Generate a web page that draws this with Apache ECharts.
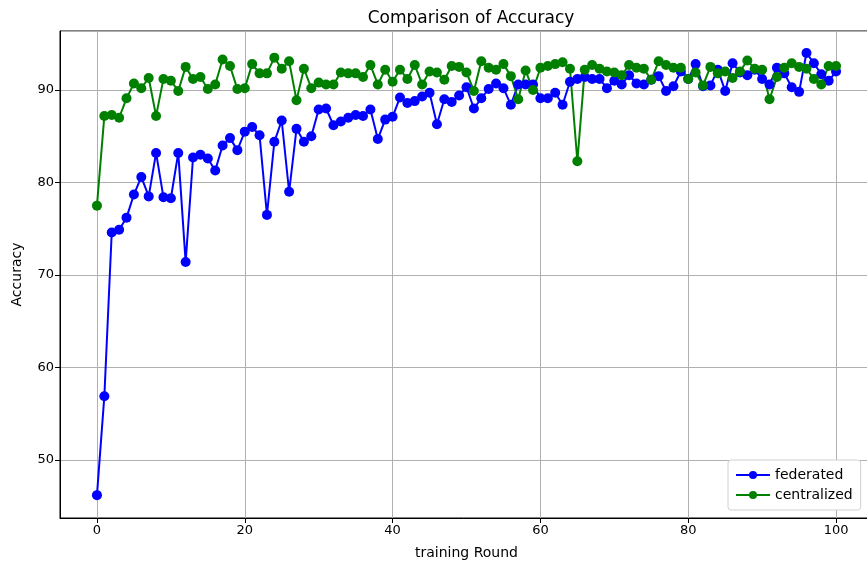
<!DOCTYPE html>
<html>
<head>
<meta charset="utf-8">
<script src="https://cdn.jsdelivr.net/npm/echarts@6/dist/echarts.min.js"></script>
<style>html,body{margin:0;padding:0;background:#fff}#c{width:867px;height:569px}</style>
</head>
<body>
<div id="c"></div>
<script>
var rounds = [];
for (var r = 0; r <= 100; r++) rounds.push(r);

var federated = [46.2,56.9,74.6,74.9,76.2,78.7,80.6,78.5,83.2,78.4,
78.3,83.2,71.4,82.7,83.0,82.6,81.3,84.0,84.8,83.5,
85.5,86.0,85.1,76.5,84.4,86.7,79.0,85.8,84.4,85.0,
87.9,88.0,86.2,86.6,87.0,87.3,87.2,87.9,84.7,86.8,
87.1,89.2,88.6,88.8,89.3,89.7,86.3,89.0,88.7,89.4,
90.3,88.0,89.1,90.1,90.7,90.2,88.4,90.6,90.6,90.6,
89.1,89.1,89.7,88.4,90.9,91.2,91.4,91.2,91.2,90.2,
91.0,90.6,91.6,90.7,90.6,91.1,91.5,89.9,90.4,92.0,
91.2,92.8,90.4,90.5,92.2,89.9,92.9,91.9,91.6,92.2,
91.2,90.6,92.4,91.8,90.3,89.8,94.0,92.9,91.7,91.0,
92.0];

var centralized = [77.5,87.2,87.3,87.0,89.1,90.7,90.2,91.3,87.2,91.2,
91.0,89.9,92.5,91.2,91.4,90.1,90.6,93.3,92.6,90.1,
90.2,92.8,91.8,91.8,93.5,92.3,93.1,88.9,92.3,90.2,
90.8,90.6,90.6,91.9,91.8,91.8,91.4,92.7,90.6,92.2,
90.9,92.2,91.2,92.7,90.6,92.0,91.9,91.1,92.6,92.5,
91.9,89.9,93.1,92.4,92.2,92.8,91.5,89.0,92.1,90.0,
92.4,92.6,92.8,93.0,92.3,82.3,92.2,92.7,92.3,92.0,
91.9,91.6,92.7,92.4,92.3,91.1,93.1,92.7,92.4,92.4,
91.2,91.9,90.5,92.5,91.8,92.0,91.3,92.0,93.2,92.3,
92.2,89.0,91.4,92.4,92.9,92.5,92.3,91.2,90.6,92.6,
92.6];

var seriesNames = ['federated', 'centralized'];
var seriesColors = ['#0000ff', '#008000'];

function pairs(ys) { return rounds.map(function (x, i) { return [x, ys[i]]; }); }

var FONT = 'DejaVu Sans';
var chart = echarts.init(document.getElementById('c'), null, {renderer: 'canvas'});
chart.setOption({
  animation: false,
  backgroundColor: '#fff',
  textStyle: {fontFamily: FONT},
  title: {
    text: 'Comparison of Accuracy',
    left: 466, top: 5, textAlign: 'center',
    textStyle: {fontFamily: FONT, fontSize: 17, fontWeight: 'normal', color: '#000'}
  },
  legend: {
    orient: 'vertical',
    left: 728, top: 460,
    padding: [8, 8, 8, 7],
    itemGap: 6,
    itemWidth: 34, itemHeight: 10,
    backgroundColor: '#fff',
    borderColor: '#d0d0d0', borderWidth: 1, borderRadius: 3,
    textStyle: {fontFamily: FONT, fontSize: 14, color: '#000'},
    data: seriesNames
  },
  grid: {left: 60, top: 31, width: 813, height: 487, containLabel: false, outerBoundsMode: 'none',
    show: true, borderColor: '#000', borderWidth: 1, backgroundColor: 'transparent'},
  xAxis: {
    type: 'value', min: -5, max: 105, splitNumber: 5,
    name: 'training Round', nameLocation: 'middle', nameGap: 28,
    nameTextStyle: {fontFamily: FONT, fontSize: 14, color: '#000'},
    axisLine: {show: true, onZero: false, lineStyle: {color: '#000', width: 1}},
    axisTick: {show: true, length: 5, lineStyle: {color: '#000'}},
    axisLabel: {showMinLabel: false, showMaxLabel: false, fontFamily: FONT, fontSize: 13, color: '#000', margin: 6},
    splitLine: {show: true, lineStyle: {color: '#b0b0b0', width: 1}}
  },
  yAxis: {
    type: 'value', min: 43.73, max: 96.38, splitNumber: 5,
    name: 'Accuracy', nameLocation: 'middle', nameGap: 36, nameRotate: 90,
    nameTextStyle: {fontFamily: FONT, fontSize: 14, color: '#000'},
    axisLine: {show: true, onZero: false, lineStyle: {color: '#000', width: 1}},
    axisTick: {show: true, length: 5, lineStyle: {color: '#000'}},
    axisLabel: {showMinLabel: false, showMaxLabel: false, fontFamily: FONT, fontSize: 13, color: '#000', margin: 6},
    splitLine: {show: true, lineStyle: {color: '#b0b0b0', width: 1}}
  },
  series: [federated, centralized].map(function (ys, k) {
    return {
      name: seriesNames[k],
      type: 'line',
      data: pairs(ys),
      symbol: 'circle', symbolSize: 10, showSymbol: true,
      lineStyle: {color: seriesColors[k], width: 2},
      itemStyle: {color: seriesColors[k]},
      emphasis: {disabled: true}
    };
  })
});
</script>
</body>
</html>
